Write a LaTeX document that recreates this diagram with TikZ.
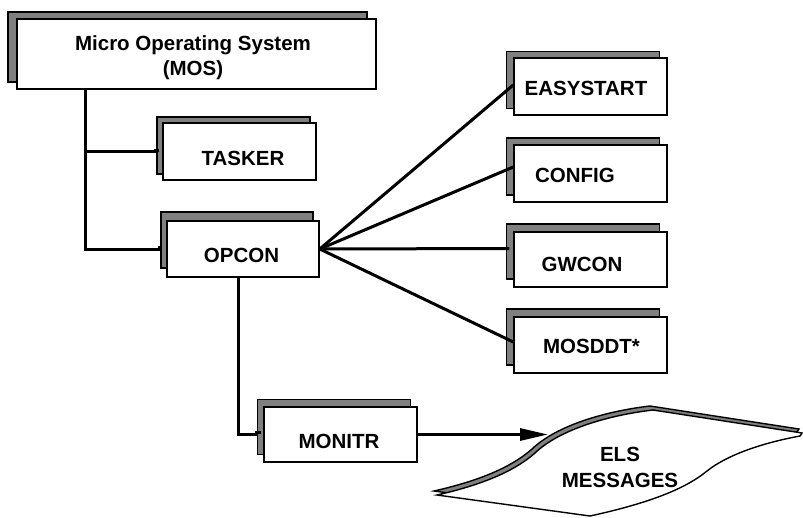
\documentclass[tikz,border=0pt]{standalone}
\usepackage{fontspec}
\setmainfont{Liberation Sans}
\usetikzlibrary{shadows,arrows.meta,calc,backgrounds}
\definecolor{shadowgray}{RGB}{128,128,128}
\newcommand\elsoutline{(437,495) .. controls (490,483) and (518,468) .. (535,453) .. controls (560,429) and (610,415) .. (653,410) -- (802,433) -- (800,436) .. controls (762,443) and (727,455) .. (707,471) .. controls (684,490) and (645,504) .. (590,516) -- cycle}
\begin{document}
\begin{tikzpicture}[x=1pt,y=-1pt,
  box/.style 2 args={draw=black, line width=1.5pt, fill=white, inner sep=0pt,
    general shadow={shadow xshift=#1, shadow yshift=#2, fill=shadowgray, draw=black, line width=1.5pt}},
  lbl/.style={font=\bfseries\fontsize{20.5}{25.5}\selectfont, align=center, inner sep=0pt},
  conn/.style={line width=3pt, draw=black}]
\useasboundingbox (0,0) rectangle (803,517);

% boxes
\node[box={-9pt}{7pt}, minimum width=359pt, minimum height=70pt] (mos) at (196.5,54) {};
\node[box={-6pt}{6pt}, minimum width=153pt, minimum height=57pt] (tasker) at (239.5,151.5) {};
\node[box={-6pt}{9pt}, minimum width=152pt, minimum height=56pt] (opcon) at (243,249) {};
\node[box={-6.5pt}{7.5pt}, minimum width=153pt, minimum height=55pt] (monitr) at (340.5,434.5) {};
\node[box={-7.5pt}{6.5pt}, minimum width=153pt, minimum height=57pt] (easystart) at (590.5,86.5) {};
\node[box={-7.5pt}{7pt}, minimum width=153pt, minimum height=57pt] (config) at (590.5,173.5) {};
\node[box={-7.5pt}{8pt}, minimum width=153pt, minimum height=55pt] (gwcon) at (590.5,259.5) {};
\node[box={-7.5pt}{8pt}, minimum width=153pt, minimum height=56pt] (mosddt) at (590.5,345) {};

% labels
\node[lbl] (mostxt) at (193,57.5) {Micro Operating System\\(MOS)};
\node[lbl] (taskertxt) at (243,158.5) {TASKER};
\node[lbl] (opcontxt) at (241.5,255.5) {OPCON};
\node[lbl] (monitrtxt) at (339,441.5) {MONITR};
\node[lbl] (easystarttxt) at (586,88) {EASYSTART};
\node[lbl] (configtxt) at (575,175) {CONFIG};
\node[lbl] (gwcontxt) at (582,264.5) {GWCON};
\node[lbl] (mosddttxt) at (591.5,346.5) {MOSDDT*};

% ELS messages document
\path[draw=black, line width=1.4pt, fill=shadowgray, shift={(-3,-4)}] \elsoutline;
\path[draw=black, line width=1.4pt, fill=white] \elsoutline;
\node[lbl] (els) at (620,467.5) {ELS\\MESSAGES};
\coordinate (elstip) at (548,436);

% connectors
\coordinate (trunk) at (85,0);
\coordinate (drop) at (238,0);
\begin{scope}[on background layer]
\draw[conn] (mos.south -| trunk) -- (opcon.west -| trunk) -- (opcon.west);
\draw[conn] (tasker.west -| trunk) -- (tasker.west);
\draw[conn] (opcon.south -| drop) |- (monitr.west);
\end{scope}
\draw[conn] ($(tasker.west)+(-8,-1.5)$) -- ($(tasker.west)+(-3,-1.5)$);
\draw[conn] ($(opcon.west)+(-8,-2)$) -- ($(opcon.west)+(-4,-2)$);
\draw[conn] ($(monitr.west)+(-8,-2.5)$) -- ($(monitr.west)+(-2,-2.5)$);
\draw[conn] (opcon.east) -- ($(easystart.west)+(0,-1.5)$);
\draw[conn] (opcon.east) -- ($(config.west)+(0,-6.5)$);
\draw[conn] (opcon.east) -- ($(gwcon.west)+(-4,-11)$);
\draw[conn] (opcon.east) -- ($(mosddt.west)+(0,-3)$);
\draw[conn, -{Triangle[length=28pt,width=12pt]}] (monitr.east) -- (monitr.east -| elstip);
\end{tikzpicture}
\end{document}
